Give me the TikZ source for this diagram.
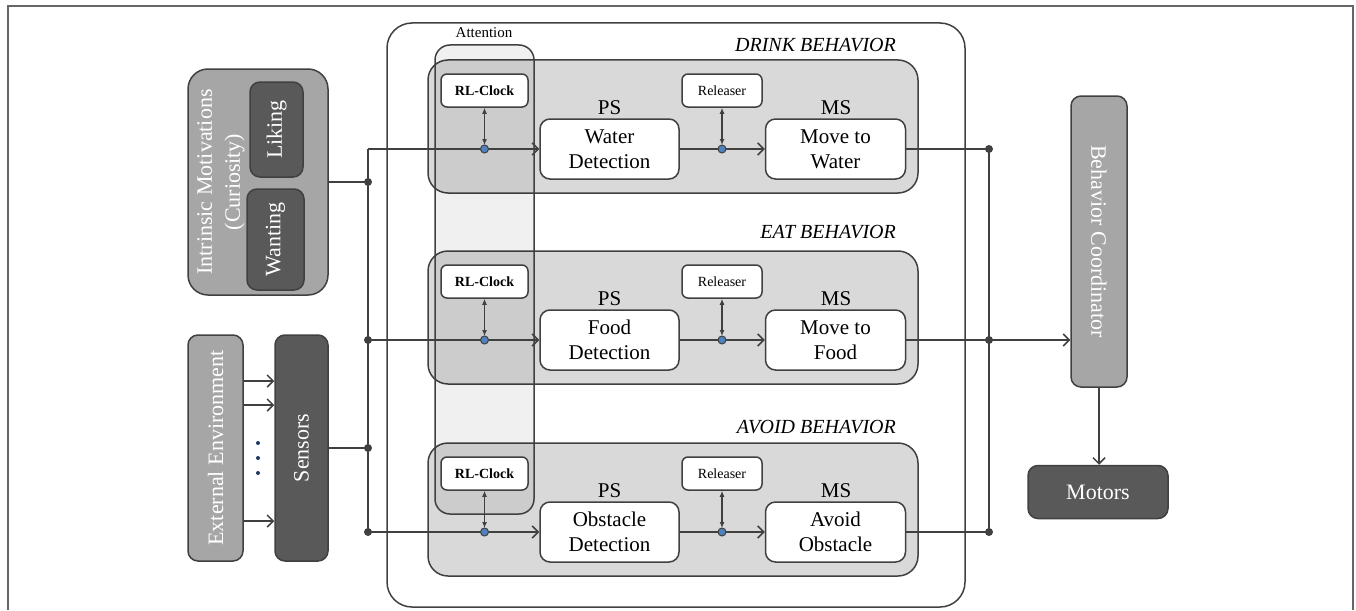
\documentclass[tikz,border=0pt]{standalone}
\usepackage{fontspec}
\setmainfont{Liberation Serif}
\usetikzlibrary{arrows.meta}
\definecolor{lc}{HTML}{404040}
\definecolor{midg}{HTML}{A6A6A6}
\definecolor{darkg}{HTML}{595959}
\definecolor{behg}{HTML}{D9D9D9}
\definecolor{bluedot}{HTML}{4F81BD}
\definecolor{navydot}{HTML}{1F3864}
\tikzset{
  gbox/.style={draw=lc, line width=1.5pt, rounded corners=10pt, inner sep=0pt},
  wbox/.style={gbox, fill=white, align=center, font=\fontsize{21}{25}\selectfont},
  sbox/.style={gbox, fill=white, rounded corners=6pt, font=\fontsize{14}{16}\selectfont},
  behbox/.style={gbox, fill=behg, rounded corners=20pt},
  lbl/.style={font=\fontsize{21}{25}\selectfont, inner sep=0pt},
  ttl/.style={font=\fontsize{20}{24}\selectfont\itshape, anchor=east, inner sep=0pt},
  wtext/.style={text=white, align=center, font=\fontsize{22}{28}\selectfont, inner sep=0pt},
  flow/.style={draw=lc, line width=1.5pt, -{Straight Barb[length=6pt,width=12pt]}},
  plain/.style={draw=lc, line width=1.5pt},
  dbl/.style={draw=lc, line width=1.5pt, {Latex[length=6pt,width=5pt]}-{Latex[length=6pt,width=5pt]}},
  jdot/.style={circle, fill=lc, inner sep=0pt, minimum size=8pt},
  bdot/.style={circle, fill=bluedot, draw=lc, line width=1pt, inner sep=0pt, minimum size=8pt},
}
\begin{document}
\begin{tikzpicture}[x=1pt,y=-1pt]
\useasboundingbox (0,0) rectangle (1356,610);
% frame
\draw[color=gray!80!black, line width=2pt] (8,610) -- (8,6) -- (1353,6) -- (1353,610);
% outer box
\node[gbox, rounded corners=25pt, minimum width=578pt, minimum height=584pt] (outer) at (676,315) {};
% behavior boxes
\foreach \o/\n in {0/d,191/e,383/a}{
  \node[behbox, minimum width=490pt, minimum height=133pt] (beh\n) at (673,126.5+\o) {};
}
% attention
\node[gbox, rounded corners=15pt, fill=black, fill opacity=0.06, minimum width=99pt, minimum height=469pt] (attn) at (484.5,279.5) {};
\node[font=\fontsize{15}{17}\selectfont, inner sep=0pt] (attnl) at (484,33) {Attention};
% rows
\foreach \o/\n/\pst/\mst/\ttltext/\ty in {0/d/{Water\\Detection}/{Move to\\Water}/{DRINK BEHAVIOR}/45,
   191/e/{Food\\Detection}/{Move to\\Food}/{EAT BEHAVIOR}/232,
   383/a/{Obstacle\\Detection}/{Avoid\\Obstacle}/{AVOID BEHAVIOR}/427}{
  \node[sbox, font=\bfseries\fontsize{14}{16}\selectfont, minimum width=87pt, minimum height=33pt] (rl\n) at (484.5,90.5+\o) {RL-Clock};
  \node[wbox, minimum width=139pt, minimum height=60pt] (ps\n) at (609.5,149+\o) {\pst};
  \node[lbl] (psl\n) at (609.5,108+\o) {PS};
  \node[sbox, minimum width=80pt, minimum height=33pt] (rel\n) at (722,90.5+\o) {Releaser};
  \node[wbox, minimum width=140pt, minimum height=60pt] (ms\n) at (835.5,149+\o) {\mst};
  \node[lbl] (msl\n) at (836,108+\o) {MS};
  \node[ttl] (t\n) at (896,\ty) {\ttltext};
  \coordinate (c\n) at (484.5,149+\o);
  \coordinate (r\n) at (722,149+\o);
  \coordinate (L\n) at (368,149+\o);
  \coordinate (R\n) at (989,149+\o);
  \draw[flow] (L\n) -- (ps\n.west);
  \draw[flow] (ps\n.east) -- (ms\n.west);
  \draw[plain] (ms\n.east) -- (R\n);
  \draw[dbl, shorten >=4pt] (rl\n.south) -- (c\n);
  \draw[dbl, shorten >=4pt] (rel\n.south) -- (r\n);
  \node[bdot] at (c\n) {};
  \node[bdot] at (r\n) {};
}
% left blocks
\node[gbox, rounded corners=20pt, fill=midg, minimum width=140pt, minimum height=226pt] (im) at (258,182) {};
\node[wtext, rotate=90] (imt) at (221,182) {Intrinsic Motivations\\(Curiosity)};
\node[gbox, fill=darkg, minimum width=53pt, minimum height=95pt] (lik) at (276.5,129.5) {};
\node[wtext, rotate=90] (likt) at (lik.center) {Liking};
\node[gbox, fill=darkg, minimum width=57pt, minimum height=101pt] (want) at (275.5,239.5) {};
\node[wtext, rotate=90] (wantt) at (want.center) {Wanting};
\node[gbox, fill=midg, minimum width=55pt, minimum height=226pt] (ee) at (215.5,448) {};
\node[wtext, rotate=90] (eet) at (ee.center) {External Environment};
\node[gbox, fill=darkg, minimum width=53pt, minimum height=226pt] (sen) at (301.5,448) {};
\node[wtext, rotate=90] (sent) at (sen.center) {Sensors};
\foreach \s in {67,43,-73}{
  \draw[flow] ([yshift=\s pt]ee.east) -- ([yshift=\s pt]sen.west);
}
\foreach \yy in {443,458,473}{
  \fill[navydot] (258,\yy) circle (2pt);
}
% left bus
\draw[plain] (Ld) -- (La);
\coordinate (jim) at (368,182);
\coordinate (jsen) at (368,448);
\draw[plain] (im.east |- jim) -- (jim);
\draw[plain] (sen.east |- jsen) -- (jsen);
\node[jdot] at (jim) {};
\node[jdot] at (jsen) {};
\node[jdot] at (Le) {};
\node[jdot] at (La) {};
% right side
\node[gbox, fill=midg, minimum width=56pt, minimum height=291pt] (bc) at (1099,241.5) {};
\node[wtext, rotate=-90] (bct) at (bc.center) {Behavior Coordinator};
\node[gbox, fill=darkg, minimum width=140pt, minimum height=53pt] (mot) at (1098,492) {};
\node[wtext] (mott) at (mot.center) {Motors};
\draw[plain] (Rd) -- (Ra);
\draw[flow] (Re) -- (Re -| bc.west);
\draw[flow] (bc.south) -- (bc.south |- mot.north);
\node[jdot] at (Rd) {};
\node[jdot] at (Re) {};
\node[jdot] at (Ra) {};
\end{tikzpicture}
\end{document}
